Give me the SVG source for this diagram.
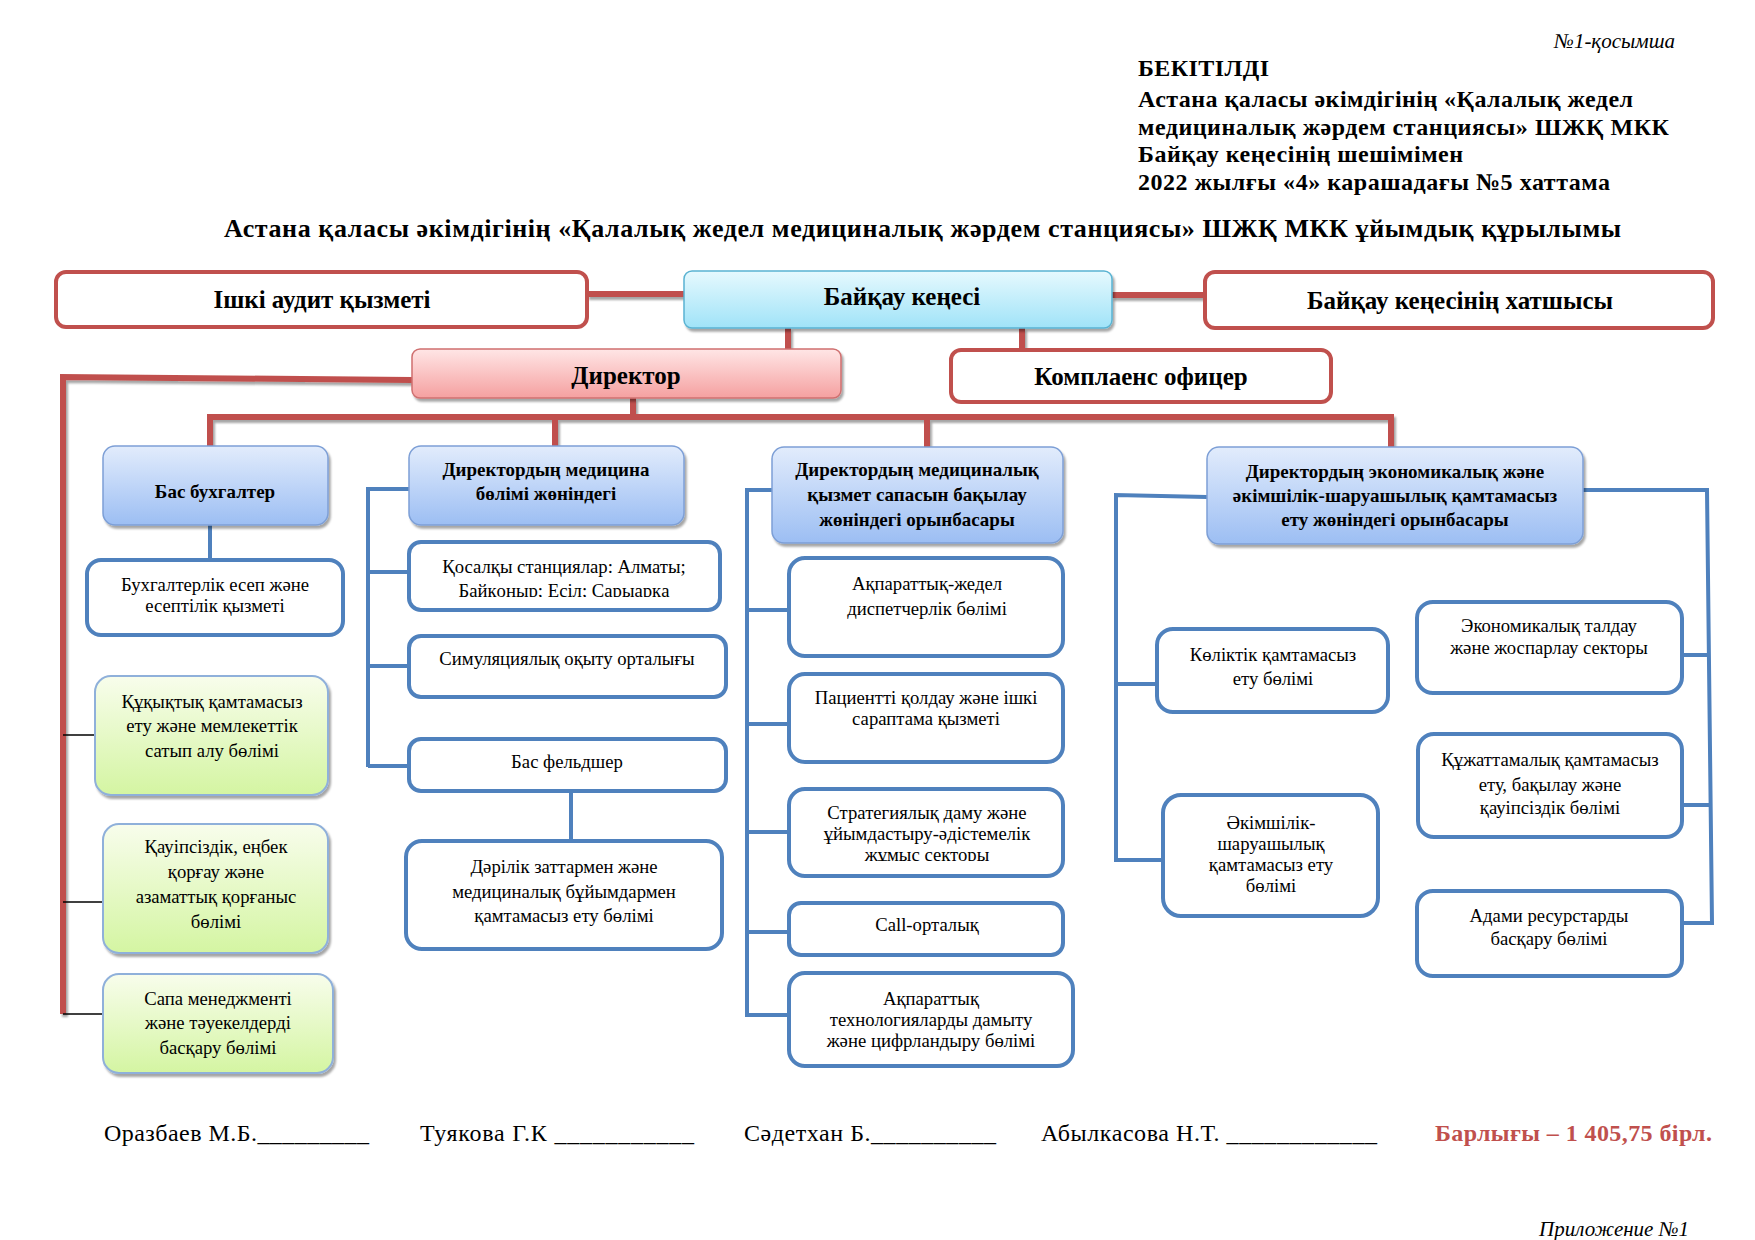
<svg xmlns="http://www.w3.org/2000/svg" width="1755" height="1240" viewBox="0 0 1755 1240">
<defs>
<linearGradient id="gBlue" x1="0" y1="0" x2="0" y2="1"><stop offset="0" stop-color="#e2ecfc"/><stop offset="1" stop-color="#9cbef3"/></linearGradient>
<linearGradient id="gGreen" x1="0" y1="0" x2="0" y2="1"><stop offset="0" stop-color="#f8fdec"/><stop offset="1" stop-color="#d4f5a2"/></linearGradient>
<linearGradient id="gCyan" x1="0" y1="0" x2="0" y2="1"><stop offset="0" stop-color="#e6f9fe"/><stop offset="1" stop-color="#a0e3f8"/></linearGradient>
<linearGradient id="gPink" x1="0" y1="0" x2="0" y2="1"><stop offset="0" stop-color="#ffe6e6"/><stop offset="1" stop-color="#f5a0a0"/></linearGradient>
<filter id="sh" x="-5%" y="-10%" width="115%" height="130%"><feDropShadow dx="2" dy="3" stdDeviation="1.2" flood-color="#000" flood-opacity="0.35"/></filter>
<clipPath id="clipQ"><rect x="409" y="542" width="311" height="55"/></clipPath>
<clipPath id="clipS"><rect x="789" y="789" width="274" height="72"/></clipPath>
</defs>
<style>
text{font-family:"Liberation Serif","Times New Roman",serif;fill:#000}
.t{font-size:18.7px;text-anchor:middle}
.b{font-weight:bold;font-size:19px}
.top{font-size:25px;font-weight:bold;text-anchor:middle}
.hdr{font-size:24px;font-weight:bold}
.sig{font-size:24px}
.redbox{fill:#fff;stroke:#c0504d;stroke-width:4}
.bluebox{fill:#fff;stroke:#4f81bd;stroke-width:4}
.hbox{fill:url(#gBlue);stroke:#7d9fd6;stroke-width:1.5}
.gbox{fill:url(#gGreen);stroke:#8fb0da;stroke-width:2}
.rl{stroke:#c0504d;stroke-width:6;fill:none}
.bl{stroke:#4f81bd;stroke-width:4;fill:none}
.kl{stroke:#000;stroke-width:1.5;fill:none}
</style>
<rect width="1755" height="1240" fill="#fff"/>

<g id="header-texts">
<text x="1675" y="48" font-size="21" font-style="italic" text-anchor="end">№1-қосымша</text>
<text class="hdr" x="1138" y="76" textLength="131">БЕКІТІЛДІ</text>
<text class="hdr" x="1138" y="107" textLength="495">Астана қаласы әкімдігінің «Қалалық жедел</text>
<text class="hdr" x="1138" y="135" textLength="531">медициналық жәрдем станциясы» ШЖҚ МКК</text>
<text class="hdr" x="1138" y="162" textLength="325">Байқау кеңесінің шешімімен</text>
<text class="hdr" x="1138" y="190" textLength="472">2022 жылғы «4» карашадағы №5 хаттама</text>
<text x="224" y="237" font-size="26" font-weight="bold" textLength="1397">Астана қаласы әкімдігінің «Қалалық жедел медициналық жәрдем станциясы» ШЖҚ МКК ұйымдық құрылымы</text>
</g>

<g id="connectors">
<g filter="url(#sh)">
<line class="rl" x1="587" y1="294" x2="684" y2="294"/>
<line class="rl" x1="1112" y1="295" x2="1205" y2="295"/>
<line class="rl" x1="788" y1="328" x2="788" y2="349"/>
<line class="rl" x1="1022" y1="328" x2="1022" y2="350"/>
<polyline class="rl" points="412,380 63,377 63,1014"/>
<line class="rl" x1="633" y1="398" x2="633" y2="418"/>
<line class="rl" x1="207" y1="417" x2="1394" y2="417"/>
<line class="rl" x1="210" y1="417" x2="210" y2="446"/>
<line class="rl" x1="555" y1="417" x2="555" y2="446"/>
<line class="rl" x1="927" y1="417" x2="927" y2="447"/>
<line class="rl" x1="1391" y1="417" x2="1391" y2="447"/>
</g>
<line class="kl" x1="63" y1="735" x2="95" y2="735"/>
<line class="kl" x1="63" y1="902" x2="103" y2="902"/>
<line class="kl" x1="63" y1="1014" x2="103" y2="1014"/>
<line class="bl" x1="210" y1="525" x2="210" y2="560"/>
<polyline class="bl" points="409,489 368,489 368,767"/>
<line class="bl" x1="368" y1="572" x2="409" y2="572"/>
<line class="bl" x1="368" y1="666" x2="409" y2="666"/>
<line class="bl" x1="368" y1="766" x2="409" y2="766"/>
<line class="bl" x1="571" y1="791" x2="571" y2="841"/>
<polyline class="bl" points="772,490 747,490 747,1015 789,1015"/>
<line class="bl" x1="747" y1="610" x2="789" y2="610"/>
<line class="bl" x1="747" y1="724" x2="789" y2="724"/>
<line class="bl" x1="747" y1="832" x2="789" y2="832"/>
<line class="bl" x1="747" y1="932" x2="789" y2="932"/>
<polyline class="bl" points="1207,497 1116,495 1116,860 1163,860"/>
<line class="bl" x1="1116" y1="684" x2="1157" y2="684"/>
<polyline class="bl" points="1583,490 1707,490 1712,923 1682,923"/>
<line class="bl" x1="1682" y1="655" x2="1709" y2="655"/>
<line class="bl" x1="1682" y1="805" x2="1710" y2="805"/>
</g>

<g id="n-audit"><rect class="redbox" x="56" y="272" width="531" height="55" rx="10"/><text class="top" x="322" y="308">Ішкі аудит қызметі</text></g>
<g id="n-board"><rect x="684" y="271" width="428" height="57" rx="8" fill="url(#gCyan)" stroke="#5ab3d2" stroke-width="1.5" filter="url(#sh)"/><text class="top" x="902" y="305">Байқау кеңесі</text></g>
<g id="n-secretary"><rect class="redbox" x="1205" y="272" width="508" height="56" rx="10"/><text class="top" x="1460" y="309">Байқау кеңесінің хатшысы</text></g>
<g id="n-director"><rect x="412" y="349" width="429" height="49" rx="8" fill="url(#gPink)" stroke="#cf6f6f" stroke-width="1.5" filter="url(#sh)"/><text class="top" x="626" y="384">Директор</text></g>
<g id="n-compliance"><rect class="redbox" x="951" y="350" width="380" height="52" rx="10"/><text class="top" x="1141" y="385">Комплаенс офицер</text></g>

<g id="n-chief-acc"><rect class="hbox" x="103" y="446" width="225" height="79" rx="12" filter="url(#sh)"/><text class="t b" x="215" y="498">Бас бухгалтер</text></g>
<g id="n-accounting"><rect class="bluebox" x="87" y="560" width="256" height="75" rx="14"/><text class="t" x="215" y="591">Бухгалтерлік есеп және</text><text class="t" x="215" y="612">есептілік қызметі</text></g>
<g id="n-legal"><rect class="gbox" x="95" y="676" width="233" height="119" rx="16" filter="url(#sh)"/><text class="t" x="212" y="708">Құқықтық қамтамасыз</text><text class="t" x="212" y="732">ету және мемлекеттік</text><text class="t" x="212" y="757">сатып алу бөлімі</text></g>
<g id="n-safety"><rect class="gbox" x="103" y="824" width="225" height="129" rx="16" filter="url(#sh)"/><text class="t" x="216" y="853">Қауіпсіздік, еңбек</text><text class="t" x="216" y="878">қорғау және</text><text class="t" x="216" y="903">азаматтық қорғаныс</text><text class="t" x="216" y="928">бөлімі</text></g>
<g id="n-quality"><rect class="gbox" x="103" y="974" width="230" height="99" rx="16" filter="url(#sh)"/><text class="t" x="218" y="1005">Сапа менеджменті</text><text class="t" x="218" y="1029">және тәуекелдерді</text><text class="t" x="218" y="1054">басқару бөлімі</text></g>

<g id="n-med-deputy"><rect class="hbox" x="409" y="446" width="275" height="79" rx="12" filter="url(#sh)"/><text class="t b" x="546" y="476">Директордың медицина</text><text class="t b" x="546" y="500">бөлімі жөніндегі</text></g>
<g id="n-substations"><rect class="bluebox" x="409" y="542" width="311" height="68" rx="12"/><g clip-path="url(#clipQ)"><text class="t" x="564" y="573">Қосалқы станциялар: Алматы;</text><text class="t" x="564" y="597">Байқоңыр; Есіл; Сарыарқа</text></g></g>
<g id="n-simulation"><rect class="bluebox" x="409" y="636" width="317" height="61" rx="12"/><text class="t" x="567" y="665">Симуляциялық оқыту орталығы</text></g>
<g id="n-feldsher"><rect class="bluebox" x="409" y="739" width="317" height="52" rx="12"/><text class="t" x="567" y="768">Бас фельдшер</text></g>
<g id="n-drugs"><rect class="bluebox" x="406" y="841" width="316" height="108" rx="16"/><text class="t" x="564" y="873">Дәрілік заттармен және</text><text class="t" x="564" y="898">медициналық бұйымдармен</text><text class="t" x="564" y="922">қамтамасыз ету бөлімі</text></g>

<g id="n-quality-deputy"><rect class="hbox" x="772" y="447" width="291" height="96" rx="12" filter="url(#sh)"/><text class="t b" x="917" y="476">Директордың медициналық</text><text class="t b" x="917" y="501">қызмет сапасын бақылау</text><text class="t b" x="917" y="526">жөніндегі орынбасары</text></g>
<g id="n-dispatch"><rect class="bluebox" x="789" y="558" width="274" height="98" rx="16"/><text class="t" x="927" y="590">Ақпараттық-жедел</text><text class="t" x="927" y="615">диспетчерлік бөлімі</text></g>
<g id="n-patient"><rect class="bluebox" x="789" y="674" width="274" height="88" rx="16"/><text class="t" x="926" y="704">Пациентті қолдау және ішкі</text><text class="t" x="926" y="725">сараптама қызметі</text></g>
<g id="n-strategy"><rect class="bluebox" x="789" y="789" width="274" height="87" rx="16"/><g clip-path="url(#clipS)"><text class="t" x="927" y="819">Стратегиялық даму және</text><text class="t" x="927" y="840">ұйымдастыру-әдістемелік</text><text class="t" x="927" y="861">жұмыс секторы</text></g></g>
<g id="n-call"><rect class="bluebox" x="789" y="903" width="274" height="52" rx="12"/><text class="t" x="927" y="931">Call-орталық</text></g>
<g id="n-it"><rect class="bluebox" x="789" y="973" width="284" height="93" rx="16"/><text class="t" x="931" y="1005">Ақпараттық</text><text class="t" x="931" y="1026">технологияларды дамыту</text><text class="t" x="931" y="1047">және цифрландыру бөлімі</text></g>

<g id="n-econ-deputy"><rect class="hbox" x="1207" y="447" width="376" height="97" rx="12" filter="url(#sh)"/><text class="t b" x="1395" y="478">Директордың экономикалық және</text><text class="t b" x="1395" y="502">әкімшілік-шаруашылық қамтамасыз</text><text class="t b" x="1395" y="526">ету жөніндегі орынбасары</text></g>
<g id="n-transport"><rect class="bluebox" x="1157" y="629" width="231" height="83" rx="16"/><text class="t" x="1273" y="661">Көліктік қамтамасыз</text><text class="t" x="1273" y="685">ету бөлімі</text></g>
<g id="n-admin"><rect class="bluebox" x="1163" y="795" width="215" height="121" rx="18"/><text class="t" x="1271" y="829">Әкімшілік-</text><text class="t" x="1271" y="850">шаруашылық</text><text class="t" x="1271" y="871">қамтамасыз ету</text><text class="t" x="1271" y="892">бөлімі</text></g>
<g id="n-economics"><rect class="bluebox" x="1417" y="602" width="265" height="91" rx="16"/><text class="t" x="1549" y="632">Экономикалық талдау</text><text class="t" x="1549" y="654">және жоспарлау секторы</text></g>
<g id="n-documents"><rect class="bluebox" x="1418" y="734" width="264" height="103" rx="16"/><text class="t" x="1550" y="766">Құжаттамалық қамтамасыз</text><text class="t" x="1550" y="791">ету, бақылау және</text><text class="t" x="1550" y="814">қауіпсіздік бөлімі</text></g>
<g id="n-hr"><rect class="bluebox" x="1417" y="891" width="265" height="85" rx="16"/><text class="t" x="1549" y="922">Адами ресурстарды</text><text class="t" x="1549" y="945">басқару бөлімі</text></g>

<g id="signatures">
<text class="sig" x="104" y="1141" textLength="265">Оразбаев М.Б._________</text>
<text class="sig" x="420" y="1141" textLength="274">Туякова Г.К ___________</text>
<text class="sig" x="744" y="1141" textLength="252">Сәдетхан Б.__________</text>
<text class="sig" x="1041" y="1141" textLength="336">Абылкасова Н.Т. ____________</text>
<text class="sig" x="1435" y="1141" textLength="277" font-weight="bold" style="fill:#c0504d">Барлығы – 1 405,75 бірл.</text>
<text x="1689" y="1236" font-size="21" font-style="italic" text-anchor="end">Приложение №1</text>
</g>
</svg>
